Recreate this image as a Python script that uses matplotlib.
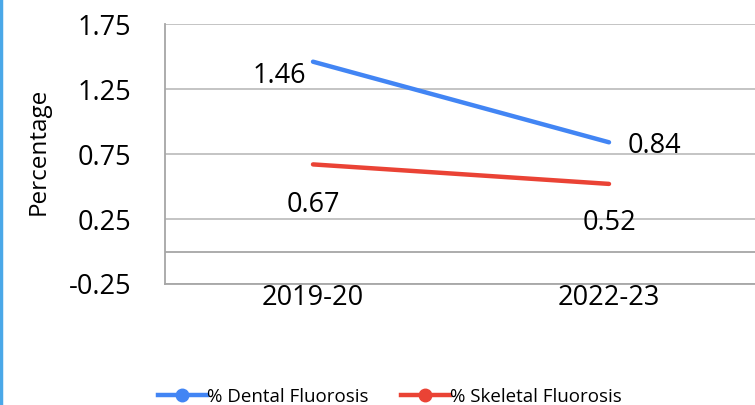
import matplotlib.pyplot as plt
from matplotlib.lines import Line2D

years = ["2019-20", "2022-23"]
dental = [1.46, 0.84]
skeletal = [0.67, 0.52]
yticks = [-0.25, 0.25, 0.75, 1.25, 1.75]

plt.rcParams['font.family'] = ['Open Sans', 'DejaVu Sans']

fig = plt.figure(figsize=(7.55, 4.05), dpi=100)
ax = fig.add_axes([165 / 755, 1 - 284 / 405, 592 / 755, 260 / 405])

blue = '#4285F4'
red = '#EA4335'
x = [0.5, 1.5]
ax.plot(x, dental, color=blue, lw=3.2, solid_capstyle='round')
ax.plot(x, skeletal, color=red, lw=3.2, solid_capstyle='round')

ax.set_xlim(0, 2)
ax.set_ylim(-0.25, 1.75)
ax.set_yticks(yticks)
ax.set_yticklabels([f"{v:.2f}" for v in yticks])
ax.set_xticks(x)
ax.set_xticklabels(years)
ax.tick_params(axis='y', length=0, pad=24, labelsize=19.5)
ax.tick_params(axis='x', length=0, pad=0, labelsize=19.5)

ax.grid(axis='y', color='#BFBFBF', lw=1.3)
ax.axhline(0, color='#A6A6A6', lw=1.3)
for s in ['top', 'right']:
    ax.spines[s].set_visible(False)
ax.spines['left'].set_color('#A6A6A6')
ax.spines['bottom'].set_color('#A6A6A6')
ax.spines['left'].set_linewidth(1.3)
ax.spines['bottom'].set_linewidth(1.3)

ax.set_ylabel('Percentage', fontsize=17.5, labelpad=10)
ax.yaxis.set_label_coords(-114 / 592, 0.51)

lab_font = dict(fontsize=19.5, ha='center', va='center')
ax.annotate(f"{dental[0]:.2f}", (x[0], dental[0]), xytext=(-24, -10), textcoords='offset points', **lab_font)
ax.annotate(f"{dental[1]:.2f}", (x[1], dental[1]), xytext=(33, -3), textcoords='offset points', **lab_font)
ax.annotate(f"{skeletal[0]:.2f}", (x[0], skeletal[0]), xytext=(0, -29), textcoords='offset points', **lab_font)
ax.annotate(f"{skeletal[1]:.2f}", (x[1], skeletal[1]), xytext=(0, -28), textcoords='offset points', **lab_font)

handles = [Line2D([0], [0], color=blue, lw=3.2, marker='o', markersize=9),
           Line2D([0], [0], color=red, lw=3.2, marker='o', markersize=9)]
fig.legend(handles, ['% Dental Fluorosis', '% Skeletal Fluorosis'], loc='center',
           bbox_to_anchor=(390 / 755, 1 - 397 / 405), ncol=2, frameon=False,
           fontsize=13.5, handlelength=2.6, handletextpad=0.05, columnspacing=1.7)

fig.add_artist(Line2D([1 / 755, 1 / 755], [0, 1], color='#4AA8E8', lw=2.5, transform=fig.transFigure))

fig.savefig('out.png', dpi=100)
